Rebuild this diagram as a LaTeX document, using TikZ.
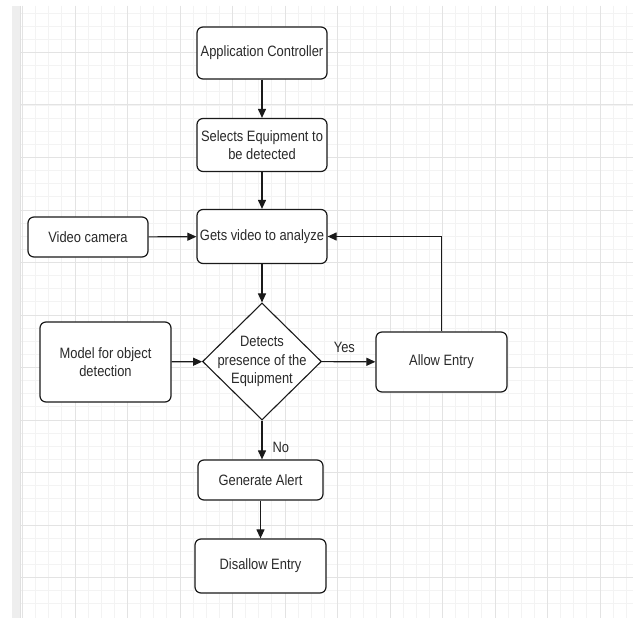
\documentclass[tikz,border=0pt]{standalone}
\usepackage{fontspec}
\setmainfont{Liberation Sans}[FakeStretch=0.86]
\usetikzlibrary{shapes.geometric,arrows.meta}
\definecolor{minorgrid}{HTML}{F3F3F3}
\definecolor{majorgrid}{HTML}{E3E3E3}
\definecolor{stripgray}{HTML}{EEEEEE}
\definecolor{stripedge}{HTML}{E0E0E0}
\definecolor{ink}{HTML}{1A1A1A}
\definecolor{textink}{HTML}{2A2A2A}
\begin{document}
\begin{tikzpicture}[x=1pt,y=-1pt,
  txt/.style={text=textink, align=center, font=\fontsize{15}{18.5}\selectfont, inner sep=0pt},
  box/.style={txt, draw=ink, line width=1.2pt, rounded corners=6pt, fill=white},
  decision/.style={draw=ink, line width=1.1pt, diamond, fill=white, inner sep=0pt},
  arr/.style={draw=ink, line width=1.1pt, -{Triangle[length=9pt,width=8pt]}},
  lab/.style={txt}
]
% canvas
\useasboundingbox (0,0) rectangle (633,618);
\fill[white] (0,0) rectangle (633,618);
% grid
\foreach \i in {0,...,46} {
  \draw[minorgrid, line width=0.9pt] ({22.5+13.125*\i},6) -- ({22.5+13.125*\i},618);
}
\foreach \j in {1,...,46} {
  \draw[minorgrid, line width=0.9pt] (20,{13.125*\j}) -- (633,{13.125*\j});
}
\foreach \i in {0,...,11} {
  \draw[majorgrid, line width=1pt] ({22.5+52.5*\i},6) -- ({22.5+52.5*\i},618);
}
\foreach \j in {1,...,11} {
  \draw[majorgrid, line width=1pt] (20,{52.5*\j}) -- (633,{52.5*\j});
}
% left strip
\fill[stripgray] (12,6) rectangle (20,618);
\draw[stripedge, line width=1pt] (20,6) -- (20,618);

% nodes
\node[box, minimum width=130pt, minimum height=52pt] (app) at (262,53) {Application Controller};
\node[box, minimum width=130pt, minimum height=53pt] (sel) at (262,145) {Selects Equipment to\\be detected};
\node[box, minimum width=130pt, minimum height=54pt] (gets) at (262,236.5) {Gets video to analyze};
\node[box, minimum width=120pt, minimum height=40pt] (cam) at (88,237) {Video camera};
\node[decision, minimum width=119pt, minimum height=117pt] (det) at (262,361.5) {};
\node[txt] (dettxt) at (det.center) {Detects\\presence of the\\Equipment};
\node[box, minimum width=131pt, minimum height=80pt] (model) at (105.5,362) {Model for object\\detection};
\node[box, minimum width=131pt, minimum height=60pt] (allow) at (441.5,362) {Allow Entry};
\node[box, minimum width=125pt, minimum height=40pt] (alert) at (260.5,480) {Generate Alert};
\node[box, minimum width=131pt, minimum height=54pt] (dis) at (260.5,566) {Disallow Entry};

% connectors
\draw[arr] (app) -- (sel);
\draw[arr] (sel) -- (gets);
\draw[arr] (cam) -- (gets);
\draw[arr] (gets) -- (det);
\draw[arr] (model) -- (det);
\draw[arr] (det) -- node[lab, above=9pt, pos=0.42] (yes) {Yes} (allow);
\draw[arr] (allow.north) |- (gets.east);
\draw[arr] (det.south) -- node[lab, right=10pt, pos=0.68] (no) {No} (det.south |- alert.north);
\draw[arr] (alert) -- (dis);
\end{tikzpicture}
\end{document}
